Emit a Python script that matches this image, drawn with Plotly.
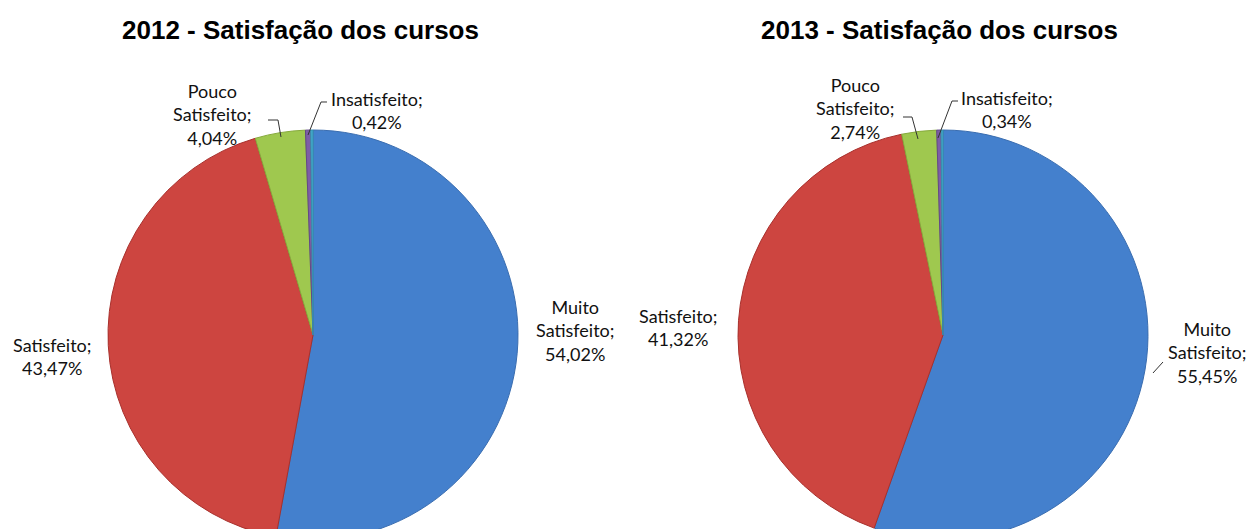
import plotly.graph_objects as go

# ---- data ----
categories = ["Muito Satisfeito", "Satisfeito", "Pouco Satisfeito", "Insatisfeito", "Muito Insatisfeito"]
values_2012 = [54.02, 43.47, 4.04, 0.42, 0.18]
values_2013 = [55.45, 41.32, 2.74, 0.34, 0.15]
titles = ["2012 - Satisfação dos cursos", "2013 - Satisfação dos cursos"]

colors = ["#4480CD", "#CD4540", "#9FC84F", "#7E5EA6", "#45ADCF"]
edge_colors = ["#3A6DB0", "#A8302C", "#86AA3C", "#634888", "#3591AE"]

W, H = 1252, 560


def px(x, y):
    return x / W, 1 - y / H


def fmt(v):
    return f"{v:.2f}".replace(".", ",") + "%"


fig = go.Figure()

R = 205
centers = [(313, 335), (943, 335)]
for vals, (cx, cy) in zip([values_2012, values_2013], centers):
    x0, y1 = px(cx - R, cy - R)
    x1, y0 = px(cx + R, cy + R)
    fig.add_trace(go.Pie(
        labels=categories,
        values=vals,
        sort=False,
        direction="clockwise",
        rotation=0,
        textinfo="none",
        hoverinfo="label+percent",
        marker=dict(colors=colors, line=dict(color=edge_colors, width=1)),
        domain=dict(x=[x0, x1], y=[y0, y1]),
        showlegend=False,
    ))

lab_font = dict(family="Lato, Noto Sans, sans-serif", size=18, color="#111111")
annotations = []

# titles
for t, cx in zip(titles, [300, 939]):
    x, y = px(cx, 30)
    annotations.append(dict(text="<b>" + t + "</b>", x=x, y=y, xref="paper", yref="paper",
                            showarrow=False, xanchor="center", yanchor="middle",
                            font=dict(family="Liberation Sans, Arial, sans-serif", size=26,
                                      color="#000000"),
                            ))

# data labels (pixel centers from reference)
label_pos = {
    0: [(575, 330, "Muito<br>Satisfeito;<br>" + fmt(values_2012[0])),
        (52, 356, "Satisfeito;<br>" + fmt(values_2012[1])),
        (212, 115, "Pouco<br>Satisfeito;<br>" + fmt(values_2012[2])),
        (377, 111, "Insatisfeito;<br>" + fmt(values_2012[3]))],
    1: [(1207, 352, "Muito<br>Satisfeito;<br>" + fmt(values_2013[0])),
        (678, 327, "Satisfeito;<br>" + fmt(values_2013[1])),
        (855, 109, "Pouco<br>Satisfeito;<br>" + fmt(values_2013[2])),
        (1007, 110, "Insatisfeito;<br>" + fmt(values_2013[3]))],
}
for k in label_pos:
    for (lx, ly, txt) in label_pos[k]:
        x, y = px(lx, ly)
        annotations.append(dict(text=txt, x=x, y=y, xref="paper", yref="paper",
                                showarrow=False, xanchor="center", yanchor="middle",
                                align="center", font=lab_font))

# leader lines
leaders = [
    [(268, 120), (278, 120), (281, 137)],
    [(327, 102), (321, 102), (308, 135)],
    [(903, 117), (912, 117), (918, 139)],
    [(958, 101), (952, 101), (938, 138)],
    [(1153, 373), (1163, 362)],
]
shapes = []
for pts in leaders:
    path = "M " + " L ".join(f"{px(a, b)[0]:.5f},{px(a, b)[1]:.5f}" for a, b in pts)
    shapes.append(dict(type="path", path=path, xref="paper", yref="paper",
                       line=dict(color="#333333", width=1)))

fig.update_layout(
    width=W, height=H,
    margin=dict(l=0, r=0, t=0, b=0),
    paper_bgcolor="white", plot_bgcolor="white",
    annotations=annotations,
    shapes=shapes,
)

fig.write_html("out.html",
               post_script="document.body.style.overflow='hidden';document.documentElement.style.overflow='hidden';")
